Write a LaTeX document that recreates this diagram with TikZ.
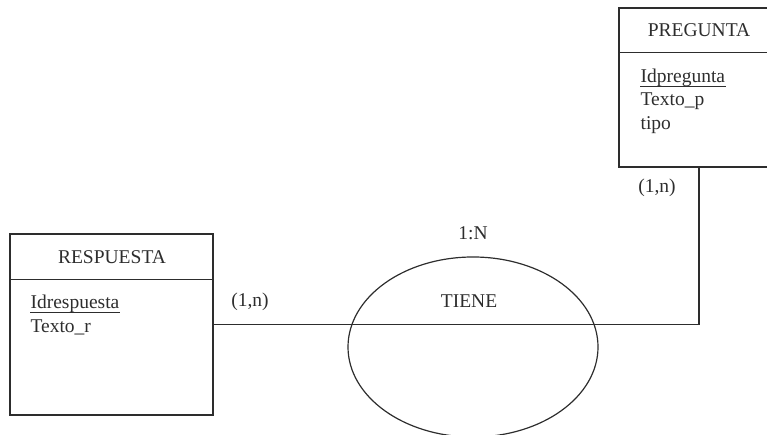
\documentclass[tikz,border=0pt]{standalone}
\usepackage{fontspec}
\setmainfont{Liberation Serif}
\usetikzlibrary{shapes, positioning, calc}
\definecolor{Trazo}{RGB}{45,45,45}

\begin{document}
\begin{tikzpicture}[x=1pt, y=1pt, line width=1.2pt, draw=Trazo, text=Trazo,
    every node/.style={font=\fontsize{19.5}{23}\selectfont},
    clave/.style={draw=Trazo, line width=0.9pt}]
    \useasboundingbox (0,0) rectangle (767,435);
    % entidades
    \node[shape=rectangle, draw=Trazo, minimum width=160pt, minimum height=159pt] (PREG) at (699,347.5) {};
    \node[shape=rectangle, draw=Trazo, minimum width=203pt, minimum height=181pt] (RESP) at (111.5,110.5) {};
    \draw ($(PREG.north west)+(0,-45)$) -- ($(PREG.north east)+(0,-45)$);
    \draw ($(RESP.north west)+(0,-46)$) -- ($(RESP.north east)+(0,-46)$);
    \node (PREGtit) at (699,405) {PREGUNTA};
    \node (RESPtit) at (112,178) {RESPUESTA};
    % atributos
    \node[anchor=base west, inner sep=0pt] (IDP) at (640,352) {Idpregunta};
    \node[anchor=base west, inner sep=0pt] (TXP) at (640,329) {Texto\_p};
    \node[anchor=base west, inner sep=0pt] (TIP) at (640,305) {tipo};
    \node[anchor=base west, inner sep=0pt] (IDR) at (30,126) {Idrespuesta};
    \node[anchor=base west, inner sep=0pt] (TXR) at (30,102) {Texto\_r};
    \draw[clave] ($(IDP.base west)+(0,-3)$) -- ($(IDP.base east)+(0,-3)$);
    \draw[clave] ($(IDR.base west)+(0,-3)$) -- ($(IDR.base east)+(0,-3)$);
    % relacion
    \draw (RESP.east) -| (PREG.south);
    \node[shape=ellipse, draw=Trazo, minimum width=250pt, minimum height=180pt] (TIENE) at (473,88) {};
    \node (TIENEtxt) at (469,134) {TIENE};
    \node (CARD) at (473,202) {1:N};
    \node (CP) at (657,247) {(1,n)};
    \node (CR) at (250,133) {(1,n)};
\end{tikzpicture}
\end{document}
